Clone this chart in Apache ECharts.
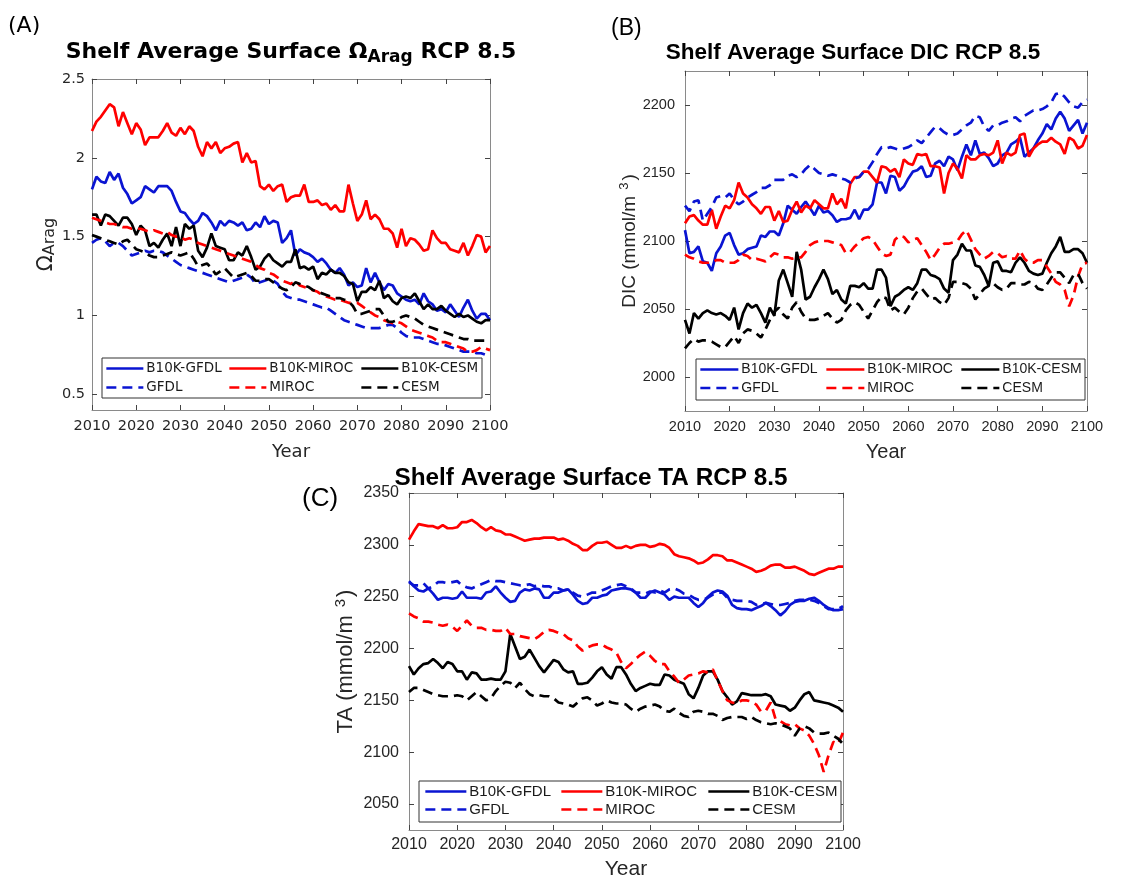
<!DOCTYPE html>
<html><head><meta charset="utf-8">
<script src="https://cdn.jsdelivr.net/npm/echarts@6/dist/echarts.min.js"></script>
<style>html,body{margin:0;padding:0;background:#fff}#c{width:1147px;height:881px}</style>
</head><body><div id="c"></div><script>
// ---------- data ----------
const years = Array.from({length: 91}, (_, i) => 2010 + i);
const seriesNames = ['B10K-GFDL', 'B10K-MIROC', 'B10K-CESM', 'GFDL', 'MIROC', 'CESM'];
const xTicks = [2010, 2020, 2030, 2040, 2050, 2060, 2070, 2080, 2090, 2100];
const ticksA = [0.5, 1, 1.5, 2, 2.5];
const ticksB = [2000, 2050, 2100, 2150, 2200];
const ticksC = [2050, 2100, 2150, 2200, 2250, 2300, 2350];

// Panel A: Omega Arag
const omegaB10kGfdl = [1.80,1.88,1.85,1.84,1.91,1.86,1.90,1.81,1.77,1.71, 1.73,1.75,1.82,1.80,1.78,1.82,1.82,1.82,1.79,1.72, 1.66,1.65,1.61,1.58,1.60,1.65,1.63,1.59,1.54,1.60, 1.57,1.60,1.59,1.57,1.59,1.54,1.55,1.59,1.56,1.63, 1.58,1.60,1.59,1.46,1.49,1.54,1.38,1.42,1.40,1.39, 1.37,1.34,1.36,1.33,1.29,1.27,1.30,1.26,1.19,1.21, 1.18,1.19,1.30,1.21,1.27,1.21,1.16,1.20,1.19,1.14, 1.12,1.10,1.09,1.10,1.07,1.14,1.09,1.07,1.03,1.04, 1.02,1.07,1.03,0.99,1.05,1.10,1.03,0.98,1.01,1.01, 0.97];
const omegaB10kMiroc = [2.17,2.23,2.26,2.30,2.34,2.32,2.20,2.29,2.22,2.15, 2.22,2.18,2.08,2.13,2.13,2.13,2.17,2.22,2.16,2.14, 2.19,2.15,2.20,2.17,2.07,2.01,2.10,2.06,2.10,2.03, 2.06,2.07,2.09,2.10,1.97,2.03,1.97,1.98,1.82,1.80, 1.83,1.79,1.82,1.83,1.72,1.75,1.76,1.76,1.83,1.72, 1.72,1.73,1.70,1.71,1.67,1.70,1.66,1.66,1.83,1.71, 1.60,1.64,1.73,1.61,1.64,1.61,1.55,1.55,1.52,1.43, 1.55,1.44,1.49,1.48,1.45,1.41,1.42,1.54,1.49,1.46, 1.46,1.42,1.41,1.40,1.46,1.38,1.44,1.51,1.50,1.40, 1.44];
const omegaB10kCesm = [1.64,1.64,1.57,1.64,1.63,1.60,1.57,1.62,1.62,1.58, 1.51,1.57,1.54,1.44,1.46,1.43,1.48,1.52,1.44,1.56, 1.44,1.58,1.55,1.57,1.41,1.37,1.43,1.52,1.44,1.43, 1.42,1.35,1.35,1.40,1.38,1.44,1.37,1.29,1.31,1.36, 1.39,1.35,1.33,1.31,1.34,1.34,1.42,1.30,1.31,1.29, 1.31,1.23,1.27,1.26,1.29,1.27,1.27,1.25,1.21,1.20, 1.09,1.15,1.15,1.18,1.16,1.22,1.11,1.13,1.09,1.07, 1.11,1.12,1.11,1.14,1.09,1.04,1.07,1.04,1.04,1.06, 1.03,1.01,0.99,1.01,0.99,1.00,0.98,0.96,0.95,0.97, 0.97];
const omegaGfdl = [1.46,1.48,1.49,1.47,1.44,1.46,1.46,1.44,1.41,1.38, 1.39,1.40,1.41,1.40,1.41,1.41,1.40,1.38,1.36,1.34, 1.32,1.31,1.30,1.29,1.28,1.27,1.26,1.25,1.24,1.23, 1.22,1.21,1.22,1.23,1.24,1.26,1.24,1.20,1.21,1.22, 1.23,1.22,1.20,1.15,1.12,1.11,1.10,1.10,1.09,1.08, 1.07,1.06,1.05,1.05,1.03,1.01,0.99,0.97,0.96,0.95, 0.94,0.93,0.92,0.92,0.92,0.92,0.93,0.94,0.94,0.92, 0.89,0.87,0.86,0.86,0.86,0.85,0.84,0.83,0.82,0.82, 0.81,0.80,0.79,0.78,0.77,0.77,0.77,0.76,0.76,0.75, 0.75];
const omegaMiroc = [1.62,1.61,1.60,1.59,1.58,1.58,1.57,1.56,1.56,1.55, 1.55,1.55,1.54,1.53,1.54,1.53,1.52,1.53,1.51,1.50, 1.50,1.48,1.49,1.48,1.46,1.45,1.44,1.43,1.42,1.41, 1.40,1.39,1.38,1.37,1.36,1.35,1.34,1.32,1.30,1.29, 1.27,1.26,1.24,1.22,1.21,1.20,1.22,1.19,1.18,1.17, 1.16,1.15,1.13,1.12,1.11,1.10,1.10,1.09,1.08,1.08, 1.08,1.06,1.04,1.02,1.00,0.99,0.97,0.96,0.95,0.96, 0.95,0.93,0.91,0.90,0.89,0.88,0.87,0.86,0.84,0.83, 0.83,0.82,0.81,0.80,0.79,0.77,0.77,0.78,0.80,0.79, 0.78];
const omegaCesm = [1.51,1.50,1.49,1.48,1.47,1.46,1.45,1.47,1.48,1.45, 1.42,1.41,1.40,1.38,1.37,1.37,1.38,1.39,1.40,1.39, 1.38,1.39,1.40,1.36,1.31,1.32,1.33,1.30,1.26,1.28, 1.30,1.27,1.24,1.25,1.26,1.27,1.25,1.22,1.22,1.23, 1.23,1.21,1.19,1.17,1.16,1.18,1.21,1.20,1.19,1.18, 1.16,1.15,1.14,1.13,1.12,1.11,1.11,1.10,1.09,1.06, 1.01,1.01,1.02,1.03,1.04,1.04,1.00,0.96,0.96,0.97, 0.99,1.00,0.99,0.98,0.96,0.94,0.93,0.92,0.91,0.90, 0.89,0.88,0.87,0.86,0.85,0.85,0.84,0.84,0.84,0.84, 0.84];

// Panel B: DIC
const dicB10kGfdl = [2108,2091,2092,2096,2085,2084,2078,2091,2096,2104, 2106,2097,2090,2091,2094,2095,2096,2104,2103,2107, 2107,2104,2113,2126,2123,2120,2125,2129,2124,2119, 2126,2121,2122,2119,2114,2116,2116,2117,2123,2116, 2123,2123,2127,2143,2143,2135,2148,2147,2137,2140, 2146,2151,2152,2155,2147,2148,2157,2159,2155,2162, 2160,2152,2162,2171,2163,2174,2164,2165,2161,2155, 2157,2163,2165,2171,2173,2176,2162,2165,2168,2174, 2179,2186,2182,2190,2195,2190,2181,2185,2189,2179, 2187];
const dicB10kMiroc = [2113,2118,2119,2115,2112,2112,2123,2109,2118,2126, 2124,2130,2143,2135,2132,2127,2124,2120,2125,2125, 2115,2122,2114,2115,2123,2129,2121,2126,2124,2130, 2127,2124,2124,2135,2127,2131,2124,2142,2147,2147, 2151,2151,2147,2143,2155,2154,2151,2153,2147,2160, 2157,2156,2164,2163,2164,2155,2155,2154,2135,2150, 2157,2153,2146,2163,2160,2160,2163,2164,2163,2165, 2174,2157,2165,2163,2165,2178,2179,2162,2168,2171, 2173,2173,2176,2173,2171,2164,2176,2174,2168,2170, 2178];
const dicB10kCesm = [2042,2032,2047,2043,2047,2049,2047,2046,2047,2045, 2042,2051,2035,2047,2054,2051,2053,2047,2040,2051, 2045,2071,2079,2069,2059,2092,2079,2057,2059,2066, 2072,2079,2072,2061,2064,2057,2054,2067,2067,2066, 2069,2065,2065,2079,2079,2073,2052,2059,2061,2064, 2066,2064,2069,2079,2079,2075,2074,2072,2065,2062, 2086,2090,2098,2093,2093,2082,2081,2075,2067,2084, 2085,2078,2078,2077,2084,2088,2084,2078,2076,2075, 2076,2084,2091,2096,2103,2092,2092,2094,2094,2091, 2084];
const dicGfdl = [2126,2122,2129,2130,2115,2120,2125,2132,2133,2132, 2135,2130,2127,2129,2132,2134,2136,2139,2139,2141, 2145,2145,2145,2148,2149,2147,2149,2153,2156,2153, 2150,2149,2148,2149,2148,2146,2145,2143,2146,2147, 2151,2153,2158,2164,2169,2168,2169,2168,2167,2168, 2169,2171,2174,2172,2176,2180,2184,2183,2180,2178, 2178,2179,2182,2185,2187,2192,2191,2184,2181,2185, 2185,2187,2188,2190,2191,2188,2192,2194,2196,2196, 2197,2199,2202,2208,2209,2206,2202,2199,2198,2202, 2204];
const dicMiroc = [2090,2088,2087,2085,2084,2084,2084,2086,2086,2084, 2084,2084,2086,2090,2089,2086,2087,2086,2085,2088, 2091,2090,2088,2088,2087,2088,2088,2092,2097,2099, 2100,2100,2100,2099,2098,2097,2091,2092,2096,2099, 2102,2103,2101,2096,2091,2089,2090,2101,2104,2103, 2099,2101,2102,2097,2092,2086,2090,2095,2098,2098, 2099,2100,2105,2108,2101,2094,2090,2087,2089,2092, 2091,2088,2089,2087,2087,2093,2087,2084,2084,2086, 2086,2081,2076,2070,2068,2064,2052,2060,2074,2083, 2084];
const dicCesm = [2021,2025,2028,2026,2027,2027,2026,2024,2022,2022, 2026,2030,2025,2032,2035,2034,2032,2029,2035,2042, 2048,2051,2046,2043,2051,2055,2048,2043,2042,2042, 2043,2045,2047,2043,2040,2042,2049,2053,2055,2053, 2048,2043,2049,2055,2059,2058,2049,2051,2048,2046, 2051,2058,2063,2065,2061,2057,2058,2055,2053,2058, 2070,2070,2069,2068,2065,2057,2061,2065,2067,2069, 2066,2064,2065,2069,2069,2068,2068,2070,2069,2065, 2064,2068,2073,2077,2077,2073,2069,2075,2076,2069, 2065];

// Panel C: TA
const taB10kGfdl = [2265,2260,2256,2255,2258,2253,2247,2249,2249,2248, 2249,2255,2249,2249,2249,2248,2254,2255,2260,2254, 2249,2245,2246,2254,2257,2256,2258,2257,2249,2249, 2254,2254,2256,2257,2252,2246,2243,2244,2249,2249, 2251,2252,2256,2257,2258,2258,2257,2254,2249,2249, 2254,2256,2254,2252,2247,2250,2249,2249,2249,2244, 2240,2244,2250,2254,2256,2255,2251,2242,2239,2238, 2238,2237,2239,2241,2244,2241,2237,2232,2236,2242, 2245,2246,2246,2248,2249,2246,2242,2239,2237,2237, 2238];
const taB10kMiroc = [2305,2313,2320,2319,2318,2318,2316,2319,2316,2316, 2317,2322,2322,2324,2321,2317,2314,2317,2314,2313, 2310,2310,2308,2306,2304,2305,2306,2306,2307,2307, 2307,2305,2306,2304,2301,2299,2295,2295,2299,2302, 2302,2303,2300,2297,2297,2299,2297,2299,2300,2300, 2298,2299,2301,2300,2297,2291,2289,2288,2287,2285, 2282,2283,2286,2290,2290,2289,2285,2285,2283,2281, 2279,2277,2274,2275,2277,2280,2281,2281,2278,2278, 2279,2277,2275,2272,2271,2273,2275,2277,2277,2279, 2279];
const taB10kCesm = [2183,2175,2181,2185,2186,2190,2186,2181,2187,2185, 2178,2178,2170,2177,2176,2170,2170,2171,2170,2170, 2178,2214,2202,2190,2192,2199,2191,2183,2177,2183, 2189,2187,2180,2177,2178,2166,2166,2167,2172,2178, 2182,2175,2171,2182,2182,2175,2166,2159,2162,2164, 2166,2165,2165,2175,2174,2170,2168,2166,2156,2152, 2162,2174,2178,2178,2170,2159,2153,2146,2149,2157, 2156,2155,2155,2155,2156,2154,2146,2145,2144,2140, 2143,2150,2156,2158,2150,2149,2148,2147,2145,2143, 2139];
const taGfdl = [2264,2261,2261,2263,2258,2260,2264,2264,2263,2264, 2265,2261,2259,2258,2260,2262,2264,2266,2265,2265, 2264,2263,2262,2261,2261,2262,2260,2261,2260,2260, 2258,2258,2256,2257,2254,2251,2250,2252,2254,2254, 2256,2258,2260,2261,2262,2260,2258,2254,2254,2253, 2255,2254,2256,2254,2257,2258,2256,2253,2252,2249, 2247,2247,2249,2252,2254,2254,2249,2247,2246,2246, 2246,2245,2242,2243,2244,2243,2242,2242,2243,2244, 2246,2247,2247,2247,2246,2244,2241,2238,2238,2238, 2241];
const taMiroc = [2234,2231,2229,2226,2226,2225,2223,2222,2223,2221, 2217,2222,2227,2222,2220,2220,2218,2218,2217,2217, 2220,2214,2214,2212,2211,2210,2209,2212,2216,2218, 2217,2215,2214,2210,2208,2202,2198,2201,2203,2204, 2204,2201,2199,2196,2187,2181,2185,2190,2194,2197, 2193,2188,2185,2185,2178,2173,2167,2170,2174,2175, 2176,2178,2177,2180,2169,2159,2150,2148,2147,2150, 2150,2149,2146,2139,2140,2148,2132,2130,2127,2126, 2127,2123,2121,2116,2108,2097,2081,2097,2110,2108, 2119];
const taCesm = [2158,2162,2162,2160,2158,2156,2155,2154,2154,2154, 2155,2154,2150,2154,2158,2154,2150,2152,2159,2164, 2168,2167,2162,2167,2161,2156,2154,2155,2154,2154, 2152,2148,2147,2146,2144,2148,2152,2153,2150,2145, 2147,2150,2148,2147,2147,2146,2142,2139,2142,2144, 2145,2146,2144,2140,2139,2142,2138,2135,2134,2139, 2140,2139,2137,2137,2135,2131,2133,2134,2134,2134, 2132,2134,2131,2129,2128,2127,2128,2127,2125,2123, 2116,2123,2125,2123,2119,2118,2118,2119,2116,2113, 2108];

// ---------- styles ----------
const BLUE = '#0a14d2', RED = '#ff0000', BLACK = '#000000';
const seriesColors = [BLUE, RED, BLACK, BLUE, RED, BLACK];
const seriesDashed = [false, false, false, true, true, true];
const AXIS = '#8a8a8a', TICK = '#444', TXT = '#262626';
const plain = v => String(v);

const panels = [
  { data: [omegaB10kGfdl, omegaB10kMiroc, omegaB10kCesm, omegaGfdl, omegaMiroc, omegaCesm],
    grid: {left: 92, top: 79, width: 398, height: 331}, ymin: 0.4, ymax: 2.5, yticks: ticksA,
    font: 'DejaVu Sans', tickSize: 14.5, xNameSize: 18, xNameGap: 33, yNameGap: 32, xMargin: 9, yMargin: 7,
    yName: '{o|Ω}{s|Arag}',
    yRich: { o: {fontSize: 21, fontFamily: 'DejaVu Sans', color: TXT, verticalAlign: 'top', lineHeight: 22},
             s: {fontSize: 16, fontFamily: 'DejaVu Sans', color: TXT, verticalAlign: 'bottom', lineHeight: 17, padding: [9, 0, 0, 0]} },
    legendFont: 13.5, legendLeft: [105, 228, 360], legendTop: 360, legendGap: 2, legendIconW: 37,
    box: {x: 102, y: 358, width: 380, height: 40} },
  { data: [dicB10kGfdl, dicB10kMiroc, dicB10kCesm, dicGfdl, dicMiroc, dicCesm],
    grid: {left: 685, top: 71, width: 402, height: 340}, ymin: 1975, ymax: 2225, yticks: ticksB,
    font: 'Liberation Sans', tickSize: 14.5, xNameSize: 20, xNameGap: 31, yNameGap: 44, xMargin: 8, yMargin: 10,
    yName: '{m|DIC (mmol/m}{p|3}{m|)}',
    yRich: { m: {fontSize: 19, fontFamily: 'Liberation Sans', color: TXT, verticalAlign: 'bottom', lineHeight: 21},
             p: {fontSize: 13, fontFamily: 'Liberation Sans', color: TXT, verticalAlign: 'top', lineHeight: 14, padding: [0, 2, 8, 6]} },
    legendFont: 14, legendLeft: [699, 825, 960], legendTop: 361, legendGap: 1.5, legendIconW: 38,
    box: {x: 696, y: 359, width: 389, height: 41} },
  { data: [taB10kGfdl, taB10kMiroc, taB10kCesm, taGfdl, taMiroc, taCesm],
    grid: {left: 409, top: 493, width: 434, height: 340}, ymin: 2025, ymax: 2350, yticks: ticksC,
    font: 'Liberation Sans', tickSize: 16, xNameSize: 21, xNameGap: 29, yNameGap: 52, xMargin: 7, yMargin: 10,
    yName: '{m|TA (mmol/m}{p|3}{m|)}',
    yRich: { m: {fontSize: 22, fontFamily: 'Liberation Sans', color: TXT, verticalAlign: 'bottom', lineHeight: 24},
             p: {fontSize: 15, fontFamily: 'Liberation Sans', color: TXT, verticalAlign: 'top', lineHeight: 16, padding: [0, 2, 9, 8]} },
    legendFont: 15, legendLeft: [424, 560, 707], legendTop: 783, legendGap: 1, legendIconW: 41,
    box: {x: 419, y: 781, width: 422, height: 41} }
];

const option = {
  animation: false,
  backgroundColor: '#fff',
  title: [
    { text: '{m|Shelf Average Surface Ω}{s|Arag}{m| RCP 8.5}', left: 291, top: 41, padding: 0, textAlign: 'center',
      textStyle: { rich: {
        m: {fontSize: 22, fontWeight: 'bold', fontFamily: 'DejaVu Sans', color: '#000', verticalAlign: 'top', lineHeight: 25},
        s: {fontSize: 17, fontWeight: 'bold', fontFamily: 'DejaVu Sans', color: '#000', verticalAlign: 'bottom', lineHeight: 18, padding: [29, 0, 0, 0]} } } },
    { text: 'Shelf Average Surface DIC RCP 8.5', left: 853, top: 41, padding: 0, textAlign: 'center',
      textStyle: {fontSize: 22.5, fontWeight: 'bold', fontFamily: 'Liberation Sans', color: '#000'} },
    { text: 'Shelf Average Surface TA RCP 8.5', left: 591, top: 466, padding: 0, textAlign: 'center',
      textStyle: {fontSize: 24.3, fontWeight: 'bold', fontFamily: 'Liberation Sans', color: '#000'} },
    { text: '(A)', left: 8, top: 15, padding: 0, textStyle: {fontSize: 22, fontWeight: 'normal', fontFamily: 'DejaVu Sans', color: '#000'} },
    { text: '(B)', left: 611, top: 17, padding: 0, textStyle: {fontSize: 23, fontWeight: 'normal', fontFamily: 'Liberation Sans', color: '#000'} },
    { text: '(C)', left: 302, top: 486, padding: 0, textStyle: {fontSize: 26, fontWeight: 'normal', fontFamily: 'Liberation Sans', color: '#000'} }
  ],
  grid: [], xAxis: [], yAxis: [], series: [], legend: [], graphic: []
};

panels.forEach((p, i) => {
  option.grid.push(Object.assign({}, p.grid));
  const lbl = {color: TXT, fontSize: p.tickSize, fontFamily: p.font, formatter: plain};
  const tick = {inside: true, length: 5, lineStyle: {color: TICK}};
  const line = {show: true, onZero: false, lineStyle: {color: AXIS, width: 1}};
  option.xAxis.push({
    type: 'value', gridIndex: i, min: 2010, max: 2100, interval: 10, position: 'bottom',
    axisLine: line, axisTick: Object.assign({}, tick, {customValues: xTicks}),
    axisLabel: Object.assign({}, lbl, {margin: p.xMargin, customValues: xTicks}), splitLine: {show: false},
    name: 'Year', nameLocation: 'middle', nameGap: p.xNameGap,
    nameTextStyle: {fontSize: p.xNameSize, fontFamily: p.font, color: TXT}
  });
  option.xAxis.push({
    type: 'value', gridIndex: i, min: 2010, max: 2100, interval: 10, position: 'top',
    axisLine: line, axisTick: Object.assign({}, tick, {customValues: xTicks}),
    axisLabel: {show: false}, splitLine: {show: false}
  });
  option.yAxis.push({
    type: 'value', gridIndex: i, min: p.ymin, max: p.ymax, position: 'left',
    axisLine: line, axisTick: Object.assign({}, tick, {customValues: p.yticks}),
    axisLabel: Object.assign({}, lbl, {margin: p.yMargin, customValues: p.yticks}), splitLine: {show: false},
    name: p.yName, nameLocation: 'middle', nameGap: p.yNameGap,
    nameTextStyle: {rich: p.yRich}
  });
  option.yAxis.push({
    type: 'value', gridIndex: i, min: p.ymin, max: p.ymax, position: 'right',
    axisLine: line, axisTick: Object.assign({}, tick, {customValues: p.yticks}),
    axisLabel: {show: false}, splitLine: {show: false}
  });
  p.data.forEach((arr, k) => {
    option.series.push({
      type: 'line', name: seriesNames[k], xAxisIndex: 2 * i, yAxisIndex: 2 * i,
      data: arr.map((v, j) => [years[j], v]), symbol: 'none', z: 2,
      lineStyle: {color: seriesColors[k], width: 2.7, type: seriesDashed[k] ? [10, 6] : 'solid'},
      itemStyle: {color: seriesColors[k]}
    });
  });
  option.graphic.push({
    type: 'rect', z: 3, shape: p.box, style: {fill: '#fff', stroke: '#333', lineWidth: 1}
  });
  for (let c = 0; c < 3; c++) {
    option.legend.push({
      orient: 'vertical', left: p.legendLeft[c], top: p.legendTop, padding: 0, z: 4,
      itemGap: p.legendGap, itemWidth: p.legendIconW, itemHeight: 10, selectedMode: false,
      itemStyle: {opacity: 0},
      lineStyle: {width: 2.7},
      data: [seriesNames[c], seriesNames[c + 3]],
      textStyle: {fontSize: p.legendFont, fontFamily: p.font, color: '#1a1a1a', lineHeight: 17, padding: [0, 0, 0, -2]}
    });
  }
});

const chart = echarts.init(document.getElementById('c'), null, {renderer: 'canvas'});
chart.setOption(option);
</script></body></html>
